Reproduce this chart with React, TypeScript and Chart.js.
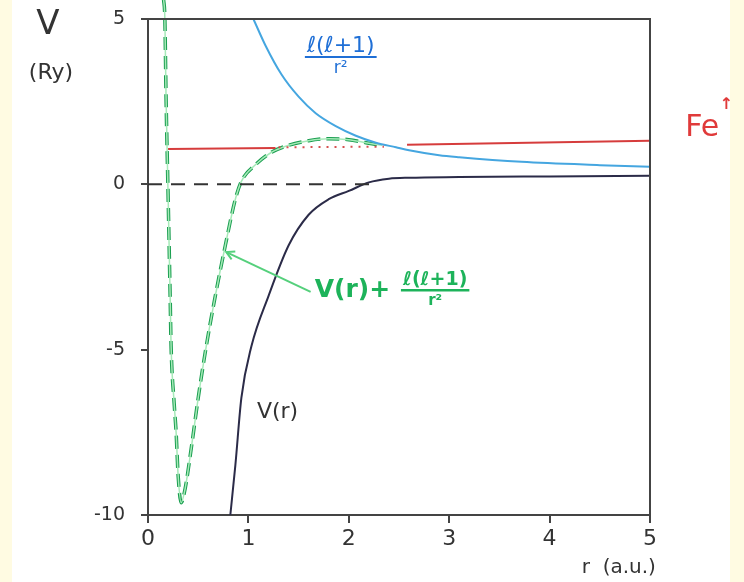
import React, { useEffect, useRef } from "react";
import { Chart, registerables } from "chart.js";

Chart.register(...registerables);

// ---- data (r in a.u., V in Ry) ----
const xTickValues = [0, 1, 2, 3, 4, 5];
const yTickValues = [-10, -5, 0, 5];

// effective potential V(r) + l(l+1)/r^2 (green dashed)
const effR = [0.155, 0.168, 0.18, 0.2, 0.22, 0.23, 0.26, 0.28, 0.3, 0.33, 0.37, 0.43, 0.5, 0.58, 0.67, 0.77, 0.87, 0.93, 1.07, 1.23, 1.4, 1.6, 1.8, 2.0, 2.17, 2.33];
const effV = [5.6, 5.0, 2.6, -0.3, -3.3, -4.9, -6.6, -7.5, -8.8, -9.63, -9.2, -8.0, -6.46, -4.9, -3.38, -1.85, -0.45, 0.09, 0.59, 0.97, 1.18, 1.32, 1.38, 1.35, 1.26, 1.18];

// centrifugal term l(l+1)/r^2 (blue)
const centR = [1.05, 1.17, 1.33, 1.5, 1.67, 1.87, 2.07, 2.27, 2.47, 2.6, 2.9, 3.1, 3.72, 4.5, 5.0];
const centV = [5.0, 4.2, 3.32, 2.65, 2.15, 1.76, 1.47, 1.26, 1.12, 1.03, 0.88, 0.82, 0.68, 0.58, 0.53];

// V(r) (dark)
const potR = [0.82, 0.87, 0.93, 1.03, 1.2, 1.4, 1.6, 1.8, 2.0, 2.2, 2.4, 2.6, 3.1, 4.0, 5.0];
const potV = [-10, -8.5, -6.46, -4.9, -3.38, -1.85, -0.92, -0.45, -0.2, 0.06, 0.17, 0.2, 0.22, 0.24, 0.26];

// Fe energy level (red)
const feLeftR = [0.2, 1.27];
const feLeftV = [1.07, 1.1];
const feDotR = [1.3, 2.35];
const feDotV = [1.12, 1.14];
const feRightR = [2.58, 5.0];
const feRightV = [1.2, 1.32];

// zero reference (black dashed)
const zeroR = [0, 2.27];
const zeroV = [0, 0];

const pts = (xs: number[], ys: number[]) => xs.map((x, i) => ({ x, y: ys[i] }));

const FONT = '"DejaVu Sans", sans-serif';

function drawArrow(ctx: CanvasRenderingContext2D, x1: number, y1: number, x2: number, y2: number, color: string) {
  ctx.strokeStyle = color;
  ctx.lineWidth = 2;
  ctx.setLineDash([]);
  ctx.beginPath();
  ctx.moveTo(x1, y1);
  ctx.lineTo(x2, y2);
  ctx.stroke();
  const ang = Math.atan2(y2 - y1, x2 - x1);
  const L = 9;
  ctx.beginPath();
  ctx.moveTo(x2 - L * Math.cos(ang - 0.5), y2 - L * Math.sin(ang - 0.5));
  ctx.lineTo(x2, y2);
  ctx.lineTo(x2 - L * Math.cos(ang + 0.5), y2 - L * Math.sin(ang + 0.5));
  ctx.stroke();
}

function drawFrac(ctx: CanvasRenderingContext2D, num: string, den: string, cx: number, barY: number, numFont: string, denFont: string, color: string, lw: number) {
  ctx.fillStyle = color;
  ctx.strokeStyle = color;
  ctx.textAlign = "center";
  ctx.font = numFont;
  const w = ctx.measureText(num).width + 4;
  ctx.textBaseline = "alphabetic";
  ctx.fillText(num, cx, barY - 5);
  ctx.lineWidth = lw;
  ctx.setLineDash([]);
  ctx.beginPath();
  ctx.moveTo(cx - w / 2, barY);
  ctx.lineTo(cx + w / 2, barY);
  ctx.stroke();
  ctx.font = denFont;
  ctx.textBaseline = "top";
  ctx.fillText(den, cx, barY + 3);
}

const overlay = {
  id: "overlay",
  afterDatasetsDraw(chart: any) {
    const { ctx, chartArea: a, scales } = chart;
    const X = (v: number) => scales.x.getPixelForValue(v);
    const Y = (v: number) => scales.y.getPixelForValue(v);
    ctx.save();
    // top & right frame
    ctx.strokeStyle = "#444";
    ctx.lineWidth = 2;
    ctx.setLineDash([]);
    ctx.beginPath();
    ctx.moveTo(a.left, a.top);
    ctx.lineTo(a.right, a.top);
    ctx.lineTo(a.right, a.bottom);
    ctx.stroke();

    // axis titles
    ctx.fillStyle = "#333";
    ctx.textAlign = "center";
    ctx.textBaseline = "middle";
    ctx.font = `34px ${FONT}`;
    ctx.fillText("V", 48, 25);
    ctx.font = `22px ${FONT}`;
    ctx.fillText("(Ry)", 51, 73);
    ctx.textAlign = "left";
    ctx.font = `20px ${FONT}`;
    ctx.fillText("r  (a.u.)", X(4.32), Y(-11.6));

    // blue label
    drawFrac(ctx, "ℓ(ℓ+1)", "r²", X(1.92), Y(3.85), `22px ${FONT}`, `17px ${FONT}`, "#1f6fd6", 2);

    // green label + arrow
    ctx.fillStyle = "#1db35a";
    ctx.font = `bold 25px ${FONT}`;
    ctx.textAlign = "left";
    ctx.textBaseline = "middle";
    ctx.fillText("V(r)+", X(1.66), Y(-3.2));
    drawFrac(ctx, "ℓ(ℓ+1)", "r²", X(2.86), Y(-3.2), `bold 19px ${FONT}`, `bold 15px ${FONT}`, "#1db35a", 2.5);
    drawArrow(ctx, X(1.62), Y(-3.25), X(0.78), Y(-2.05), "#55d07c");

    // V(r) label
    ctx.fillStyle = "#333";
    ctx.font = `22px ${FONT}`;
    ctx.textAlign = "center";
    ctx.textBaseline = "middle";
    ctx.fillText("V(r)", X(1.29), Y(-6.88));

    // Fe label
    ctx.fillStyle = "#e03a3a";
    ctx.font = `30px ${FONT}`;
    ctx.fillText("Fe", X(5.52), Y(1.7));
    ctx.font = `bold 16px ${FONT}`;
    ctx.fillText("↑", X(5.76), Y(2.4));
    ctx.restore();
  },
};

export default function App() {
  const ref = useRef<HTMLCanvasElement | null>(null);
  useEffect(() => {
    document.body.style.margin = "0";
    const canvas = ref.current!;
    const chart = new Chart(canvas, {
      type: "scatter",
      data: {
        datasets: [
          {
            label: "zero",
            data: pts(zeroR, zeroV),
            showLine: true,
            borderColor: "#333",
            borderWidth: 2,
            borderDash: [14, 9],
            pointRadius: 0,
          },
          {
            label: "Fe left",
            data: pts(feLeftR, feLeftV),
            showLine: true,
            borderColor: "#d63c3c",
            borderWidth: 2,
            pointRadius: 0,
          },
          {
            label: "Fe dotted",
            data: pts(feDotR, feDotV),
            showLine: true,
            borderColor: "#d65050",
            borderWidth: 2,
            borderDash: [2, 6],
            pointRadius: 0,
          },
          {
            label: "Fe right",
            data: pts(feRightR, feRightV),
            showLine: true,
            borderColor: "#d63c3c",
            borderWidth: 2,
            pointRadius: 0,
          },
          {
            label: "l(l+1)/r^2",
            data: pts(centR, centV),
            showLine: true,
            borderColor: "#45a6e0",
            borderWidth: 2,
            pointRadius: 0,
            cubicInterpolationMode: "monotone",
          },
          {
            label: "V(r)",
            data: pts(potR, potV),
            showLine: true,
            borderColor: "#2b2b48",
            borderWidth: 2,
            pointRadius: 0,
            cubicInterpolationMode: "monotone",
          },
          {
            label: "eff underlay",
            data: pts(effR, effV),
            showLine: true,
            borderColor: "#a6eab8",
            borderWidth: 1.5,
            pointRadius: 0,
            cubicInterpolationMode: "monotone",
            clip: false,
          },
          {
            label: "V(r)+l(l+1)/r^2",
            data: pts(effR, effV),
            showLine: true,
            borderColor: "#1a9e50",
            borderWidth: 3.5,
            borderDash: [13, 6],
            pointRadius: 0,
            cubicInterpolationMode: "monotone",
            clip: false,
          },
        ],
      } as any,
      options: {
        animation: false,
        responsive: false,
        devicePixelRatio: 1,
        events: [],
        layout: { padding: { top: 19, right: 94, bottom: 0, left: 0 } },
        plugins: { legend: { display: false }, tooltip: { enabled: false } },
        scales: {
          x: {
            type: "linear",
            min: 0,
            max: 5,
            afterFit: (s: any) => { s.height = 67; s.paddingLeft = 0; s.paddingRight = 0; },
            afterBuildTicks: (s: any) => { s.ticks = xTickValues.map((v) => ({ value: v })); },
            grid: { drawOnChartArea: false, drawTicks: true, tickLength: 8, color: "#444", lineWidth: 2 },
            border: { display: true, color: "#444", width: 2 },
            ticks: { color: "#333", font: { family: FONT, size: 22 }, padding: 3, maxRotation: 0 },
          },
          y: {
            type: "linear",
            min: -10,
            max: 5,
            afterFit: (s: any) => { s.width = 148; s.paddingTop = 0; s.paddingBottom = 0; },
            afterBuildTicks: (s: any) => { s.ticks = yTickValues.map((v) => ({ value: v })); },
            grid: { drawOnChartArea: false, drawTicks: true, tickLength: 7, color: "#444", lineWidth: 2 },
            border: { display: true, color: "#444", width: 2 },
            ticks: { color: "#333", font: { family: FONT, size: 19 }, padding: 16 },
          },
        },
      } as any,
      plugins: [overlay],
    });
    return () => chart.destroy();
  }, []);

  return (
    <div
      style={{
        position: "absolute",
        left: 0,
        top: 0,
        width: 744,
        height: 582,
        background: "linear-gradient(to right, #fffbe2 0px, #fffbe2 12px, #ffffff 12px, #ffffff 730px, #fffbe2 730px)",
      }}
    >
      <canvas ref={ref} width={744} height={582} style={{ display: "block" }} />
    </div>
  );
}
